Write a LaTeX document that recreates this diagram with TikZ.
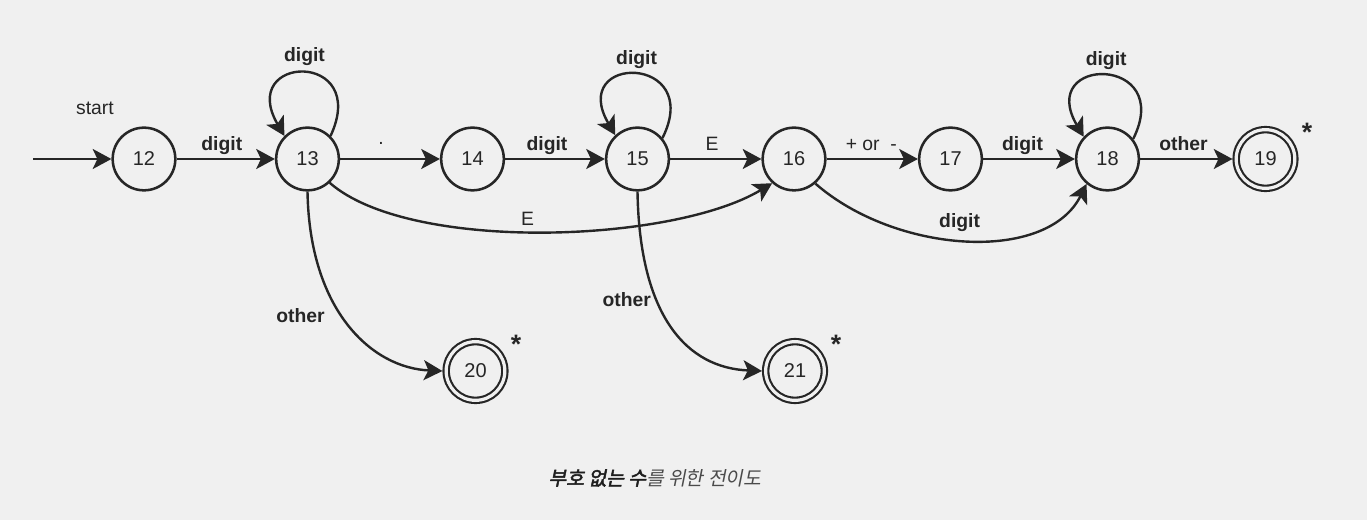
\documentclass[tikz,border=0pt]{standalone}
\usepackage{fontspec}
\setmainfont{Liberation Sans}
\newfontfamily\krfont[FakeSlant=0.2]{Noto Sans CJK KR}
\newfontfamily\krboldfont[FakeSlant=0.2,FakeBold=2.5]{Noto Sans CJK KR}
\usetikzlibrary{arrows.meta}
\definecolor{bgcol}{HTML}{F0F0F0}
\definecolor{ink}{HTML}{262626}
\tikzset{
  state/.style={circle, draw=ink, line width=1.9pt, minimum size=47pt, inner sep=0pt,
    text=ink, font=\fontsize{15}{17}\selectfont},
  accept/.style={circle, draw=ink, line width=1.6pt, double=bgcol, double distance=2.4pt,
    minimum size=44pt, inner sep=0pt, outer sep=2.8pt, text=ink, font=\fontsize{15}{17}\selectfont},
  trans/.style={draw=ink, line width=1.8pt, -{Stealth[length=14pt,width=15pt,inset=3.5pt]}},
  lbl/.style={text=ink, font=\bfseries\fontsize{14.5}{16}\selectfont},
  plainlbl/.style={text=ink, font=\fontsize{14.5}{16}\selectfont},
  onedge/.style={anchor=base, yshift=6.5pt},
  star/.style={text=ink, anchor=base, font=\bfseries\fontsize{20}{22}\selectfont},
}
\begin{document}
\begin{tikzpicture}[x=0.75pt, y=-0.75pt]
  % 배경
  \fill[bgcol] (0,0) rectangle (1367,520);
  \useasboundingbox (0,0) rectangle (1367,520);

  % 상태
  \node[state] (n12) at (144,159) {12};
  \node[state] (n13) at (307.5,159) {13};
  \node[state] (n14) at (472.5,159) {14};
  \node[state] (n15) at (637.5,159) {15};
  \node[state] (n16) at (794,159) {16};
  \node[state] (n17) at (950.5,159) {17};
  \node[state] (n18) at (1107.5,159) {18};
  \node[accept] (n19) at (1265.5,159) {19};
  \node[accept] (n20) at (475.5,371) {20};
  \node[accept] (n21) at (795,371) {21};

  % 시작
  \coordinate (begin) at (33,159);
  \node[plainlbl, anchor=base] (startlbl) at (95,115) {start};
  \draw[trans] (begin) -- (n12);

  % 위쪽 줄의 전이
  \draw[trans] (n12) -- (n13) node[lbl, onedge, pos=0.46] {digit};
  \draw[trans] (n13) -- (n14) node[plainlbl, anchor=base, yshift=10.5pt, pos=0.41] {.};
  \draw[trans] (n14) -- (n15) node[lbl, onedge, pos=0.42] {digit};
  \draw[trans] (n15) -- (n16) node[plainlbl, onedge, pos=0.46] {E};
  \draw[trans] (n16) -- (n17) node[plainlbl, onedge, pos=0.49] {+ or~~-};
  \draw[trans] (n17) -- (n18) node[lbl, onedge, pos=0.43] {digit};
  \draw[trans] (n18) -- (n19) node[lbl, onedge, pos=0.47] {other};

  % 자기 자신으로 가는 고리
  \draw[trans] (n13.45) .. controls +(40,-86) and +(-48,-82) .. (n13.135)
    node[lbl, anchor=base, yshift=8.5pt, pos=0.5] {digit};
  \draw[trans] (n15.40) .. controls +(42,-84) and +(-48,-82) .. (n15.133)
    node[lbl, anchor=base, yshift=7.5pt, pos=0.5] {digit};
  \draw[trans] (n18.38) .. controls +(42,-84) and +(-48,-82) .. (n18.137)
    node[lbl, anchor=base, yshift=7.5pt, pos=0.5] {digit};

  % 아래로 휘는 전이
  \draw[trans] (n13.-47) .. controls +(80,70) and +(-100,60) .. (n16.228)
    node[plainlbl, anchor=base, yshift=5pt, pos=0.47] {E};
  \draw[trans] (n16.-49) .. controls +(80,70) and +(-40,80) .. (n18.230)
    node[lbl, anchor=base, yshift=9pt, pos=0.48] {digit};
  \draw[trans] (n13.south) .. controls +(2,120) and +(-70,-3) .. (n20.west)
    node[lbl, pos=0.45, left=9pt] {other};
  \draw[trans] (n15.south) .. controls +(2,125) and +(-75,-3) .. (n21.west)
    node[lbl, pos=0.36, left=0pt] {other};

  % 되돌림 표시
  \node[star] (star19) at (1307,141.5) {*};
  \node[star] (star20) at (516,353.5) {*};
  \node[star] (star21) at (836,353.5) {*};

  % 제목
  \node (caption) at (655,478) {\fontsize{14.5}{17}\selectfont
    {\krboldfont\color[HTML]{1E1E1E}부호 없는 수}{\krfont\color[HTML]{4A4A4A}를 위한 전이도}};
\end{tikzpicture}
\end{document}
